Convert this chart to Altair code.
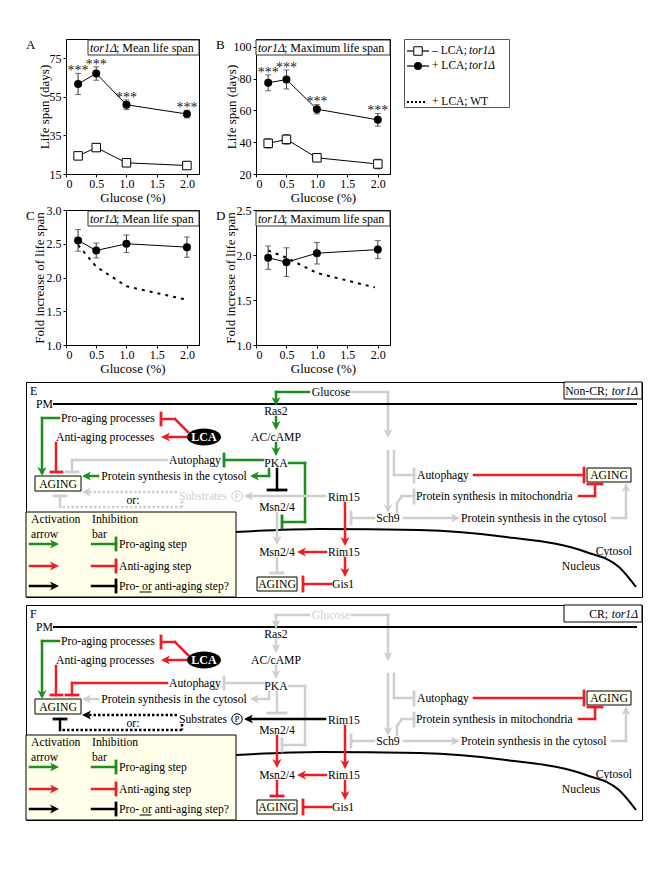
import altair as alt
import pandas as pd

FONT = "Liberation Serif"

# ---------------- data ----------------
glucose = [0.2, 0.5, 1.0, 2.0]
wt_glucose = [0.2, 0.5, 1.0, 1.95]
x_ticks = [0, 0.5, 1.0, 1.5, 2.0]

A_plus = [61.7, 67.1, 50.9, 46.1]
A_plus_err = [5.5, 3.5, 2.5, 2.0]
A_minus = [24.4, 28.7, 20.8, 19.4]
A_minus_err = [1.5, 2.0, 1.0, 1.5]

B_plus = [77.4, 79.5, 60.8, 54.1]
B_plus_err = [5.0, 6.0, 3.0, 4.0]
B_minus = [39.3, 41.8, 30.2, 26.3]
B_minus_err = [3.0, 3.0, 2.0, 3.0]

C_plus = [2.55, 2.40, 2.50, 2.45]
C_plus_err = [0.16, 0.11, 0.13, 0.15]
C_wt = [2.48, 2.16, 1.87, 1.68]

D_plus = [1.97, 1.92, 2.02, 2.06]
D_plus_err = [0.13, 0.16, 0.12, 0.10]
D_wt = [2.05, 1.97, 1.80, 1.64]

A_ticks = [15, 35, 55, 75]
B_ticks = [20, 40, 60, 80, 100]
C_ticks = [1.0, 1.5, 2.0, 2.5, 3.0]
D_ticks = [1.0, 1.5, 2.0, 2.5]

# ---------------- diagram content ----------------
G, R, K, L = "#1d8f1d", "#ee1c24", "#000000", "#cfcfcf"

# polylines: points, colour in E, colour in F, style (s solid / d dotted), width
dia_paths = [
    ([(283, 10), (250, 10), (250, 20)], G, L, "s", 2.5),
    ([(326, 10), (362, 10), (362, 52)], L, L, "s", 2.5),
    ([(250, 35), (250, 44)], G, L, "s", 2.5),
    ([(250, 61), (250, 70)], G, L, "s", 2.5),
    ([(237, 78), (199, 78)], G, L, "s", 2.5),
    ([(243, 87), (243, 94), (228, 94)], G, L, "s", 2.5),
    ([(72, 94), (60, 94)], G, L, "s", 2.5),
    ([(251, 87), (251, 108)], K, L, "s", 2.5),
    ([(263, 81), (279, 81), (279, 140), (257, 140)], G, L, "s", 2.5),
    ([(251, 131), (251, 158)], L, R, "s", 2.5),
    ([(251, 176), (251, 191)], L, R, "s", 2.5),
    ([(300, 170), (275, 170)], R, R, "s", 2.5),
    ([(319, 121), (319, 160)], R, R, "s", 2.5),
    ([(319, 176), (319, 190)], R, R, "s", 2.5),
    ([(305, 202), (278, 202)], R, R, "s", 2.5),
    ([(299, 114), (222, 114)], L, K, "s", 2.5),
    ([(151, 110), (60, 110)], L, K, "d", 2.5),
    ([(156, 119), (156, 125), (34, 125)], L, K, "d", 2.5),
    ([(34, 125), (34, 114)], L, K, "s", 2.5),
    ([(33, 36), (16, 36), (16, 90)], G, G, "s", 2.5),
    ([(30, 61), (30, 90)], R, R, "s", 2.5),
    ([(141, 78), (46, 78), (46, 90)], L, R, "s", 2.5),
    ([(162, 50), (149, 37), (136, 37)], R, R, "s", 2.5),
    ([(160, 55), (139, 55)], R, R, "s", 2.5),
    ([(362, 69), (362, 127)], L, L, "s", 2.5),
    ([(368, 69), (368, 93), (388, 93)], L, L, "s", 2.5),
    ([(371, 130), (371, 121), (376, 114), (388, 114)], L, L, "s", 2.5),
    ([(378, 136), (430, 136)], L, L, "s", 2.5),
    ([(586, 136), (600, 136), (600, 105)], L, L, "s", 2.5),
    ([(348, 136), (325, 136)], L, L, "s", 2.5),
    ([(448, 93), (557, 93)], R, R, "s", 2.5),
    ([(553, 114), (569, 114), (569, 102)], R, R, "s", 2.5),
    ([(28, 22), (610, 22)], K, K, "s", 2.0),
    ([(4, 162), (28, 162)], G, G, "s", 2.5),
    ([(4, 184), (28, 184)], R, R, "s", 2.5),
    ([(4, 204), (28, 204)], K, K, "s", 2.5),
    ([(66, 162), (90, 162)], G, G, "s", 2.5),
    ([(66, 184), (90, 184)], R, R, "s", 2.5),
    ([(66, 204), (90, 204)], K, K, "s", 2.5),
    ([(114, 210), (125, 210)], K, K, "s", 1.0),
]

# inhibition bars: x1, y1, x2, y2, colour E, colour F
dia_bars = [
    (198, 72, 198, 84, G, L),
    (242, 108, 260, 108, K, L),
    (256, 134, 256, 146, G, L),
    (245, 191, 257, 191, L, R),
    (277, 195, 277, 209, R, R),
    (28, 114, 40, 114, L, K),
    (25, 90, 36, 90, R, R),
    (40, 90, 52, 90, L, R),
    (135, 31, 135, 43, R, R),
    (388, 87, 388, 100, L, L),
    (388, 108, 388, 121, L, L),
    (325, 130, 325, 142, L, L),
    (558, 86, 558, 100, R, R),
    (562, 102, 576, 102, R, R),
    (90, 156, 90, 168, G, G),
    (90, 178, 90, 190, R, R),
    (90, 198, 90, 210, K, K),
]

# arrow heads: tip x, tip y, direction, colour E, colour F
dia_heads = [
    (250, 24, "down", G, L), (362, 56, "down", L, L), (250, 48, "down", G, L),
    (250, 74, "down", G, L), (224, 94, "left", G, L), (56, 94, "left", G, L),
    (251, 163, "down", L, R), (271, 170, "left", R, R), (319, 164, "down", R, R),
    (319, 195, "down", R, R), (218, 114, "left", L, K), (56, 110, "left", L, K),
    (16, 94, "down", G, G), (135, 55, "left", R, R), (362, 131, "down", L, L),
    (434, 136, "right", L, L), (600, 101, "up", L, L),
    (33, 162, "right", G, G), (33, 184, "right", R, R), (33, 204, "right", K, K),
]

# labels: text, x, y, align, colour E, colour F
dia_texts = [
    ("Glucose", 305, 10, "center", K, L), ("Ras2", 250, 29, "center", K, K),
    ("AC/cAMP", 250, 55, "center", K, K), ("PKA", 250, 81, "center", K, K),
    ("Pro-aging processes", 35, 36, "left", K, K),
    ("Anti-aging processes", 30, 55, "left", K, K),
    ("Autophagy", 143, 78, "left", K, K),
    ("Protein synthesis in the cytosol", 148, 94, "center", K, K),
    ("AGING", 32, 102, "center", K, K), ("Substrates", 153, 114, "left", L, K),
    ("or:", 107, 118, "center", K, K), ("Msn2/4", 251, 125, "center", K, K),
    ("Rim15", 302, 115, "left", K, K), ("Msn2/4", 251, 170, "center", K, K),
    ("Rim15", 302, 170, "left", K, K), ("Gis1", 306, 202, "left", K, K),
    ("AGING", 251, 202, "center", K, K), ("Autophagy", 391, 93, "left", K, K),
    ("Protein synthesis in mitochondria", 390, 114, "left", K, K),
    ("Sch9", 362, 136, "center", K, K),
    ("Protein synthesis in the cytosol", 435, 136, "left", K, K),
    ("AGING", 583, 93, "center", K, K), ("Cytosol", 606, 169, "right", K, K),
    ("Nucleus", 555, 184, "center", K, K), ("PM", 10, 22, "left", K, K),
    ("Activation", 5, 137, "left", K, K), ("arrow", 5, 152, "left", K, K),
    ("Inhibition", 66, 137, "left", K, K), ("bar", 66, 152, "left", K, K),
    ("Pro-aging step", 93, 162, "left", K, K),
    ("Anti-aging step", 93, 184, "left", K, K),
    ("Pro- or anti-aging step?", 93, 204, "left", K, K),
]

# boxes: x1, y1, x2, y2, fill
dia_boxes = [
    (0, 130, 210, 215, "#ffffea"),
    (9, 94, 55, 109, "#fffff0"),
    (231, 195, 271, 209, "#fffff0"),
    (561, 86, 605, 100, "#fffff0"),
    (538, 0, 616, 17, "#ffffff"),
]

nucleus_x = [210, 293, 393, 480, 560, 593, 610]
nucleus_y = [150, 147, 148, 155, 170, 185, 205]

ARROW = "M0,-1L1,1L0,0.45L-1,1Z"
ELLIPSE = "M-1,0A1,0.5,0,1,1,1,0A1,0.5,0,1,1,-1,0Z"
DIRS = {"up": (0, -1, 0), "right": (1, 0, 90), "down": (0, 1, 180), "left": (-1, 0, 270)}


def diagram(ci, letter, cond):
    W, H = 616, 215
    xs = alt.Scale(domain=[0, W], nice=False, zero=False)
    ys = alt.Scale(domain=[0, H], nice=False, zero=False, reverse=True)
    X = lambda f: alt.X(f"{f}:Q", scale=xs, axis=None)
    Y = lambda f: alt.Y(f"{f}:Q", scale=ys, axis=None)
    col = alt.Color("c:N", scale=None)

    segs = []
    for pts, cE, cF, st, w in dia_paths:
        c = (cE, cF)[ci]
        for (x1, y1), (x2, y2) in zip(pts[:-1], pts[1:]):
            segs.append(dict(x=x1, y=y1, x2=x2, y2=y2, c=c, w=w, s=st))
    for x1, y1, x2, y2, cE, cF in dia_bars:
        segs.append(dict(x=x1, y=y1, x2=x2, y2=y2, c=(cE, cF)[ci], w=2.8, s="s"))
    sdf = pd.DataFrame(segs)

    heads = []
    for tx, ty, d, cE, cF in dia_heads:
        dx, dy, ang = DIRS[d]
        heads.append(dict(x=tx - 4.5 * dx, y=ty - 4.5 * dy, a=ang, c=(cE, cF)[ci]))
    hdf = pd.DataFrame(heads)

    tdf = pd.DataFrame([dict(t=t, x=x, y=y, al=al, c=(cE, cF)[ci])
                        for t, x, y, al, cE, cF in dia_texts])
    bdf = pd.DataFrame([dict(x=a, y=b, x2=c, y2=d, f=f) for a, b, c, d, f in dia_boxes])
    ndf = pd.DataFrame({"x": nucleus_x, "y": nucleus_y, "o": list(range(len(nucleus_x)))})

    layers = [
        alt.Chart(bdf).mark_rect(stroke="black", strokeWidth=1).encode(
            x=X("x"), x2="x2", y=Y("y"), y2="y2", fill=alt.Fill("f:N", scale=None)),
        alt.Chart(ndf).mark_line(color="black", strokeWidth=2, interpolate="monotone").encode(
            x=X("x"), y=Y("y"), order="o:Q"),
        alt.Chart(sdf[sdf.s == "s"]).mark_rule(strokeCap="square").encode(
            x=X("x"), x2="x2", y=Y("y"), y2="y2", color=col,
            strokeWidth=alt.StrokeWidth("w:Q", scale=None)),
        alt.Chart(sdf[sdf.s == "d"]).mark_rule(strokeDash=[2.5, 2], strokeWidth=2.5).encode(
            x=X("x"), x2="x2", y=Y("y"), y2="y2", color=col),
        alt.Chart(hdf).mark_point(shape=ARROW, filled=True, size=81, opacity=1, strokeWidth=0).encode(
            x=X("x"), y=Y("y"), color=col, angle=alt.Angle("a:Q", scale=None)),
    ]
    for al in ["left", "center", "right"]:
        sub = tdf[tdf.al == al]
        if len(sub):
            layers.append(alt.Chart(sub).mark_text(align=al, baseline="middle", fontSize=11.7).encode(
                x=X("x"), y=Y("y"), text="t:N", color=col))
    # LCA ellipse and phospho circle
    lca = pd.DataFrame({"x": [178], "y": [55], "t": ["LCA"]})
    layers.append(alt.Chart(lca).mark_point(shape=ELLIPSE, filled=True, size=1156, color="black", opacity=1).encode(
        x=X("x"), y=Y("y")))
    layers.append(alt.Chart(lca).mark_text(color="white", fontWeight="bold", fontSize=12).encode(
        x=X("x"), y=Y("y"), text="t:N"))
    pc = (L, K)[ci]
    pdf = pd.DataFrame({"x": [211], "y": [114], "t": ["P"]})
    layers.append(alt.Chart(pdf).mark_point(shape="circle", size=110, fill="white", fillOpacity=1,
                                            stroke=pc, strokeWidth=1, opacity=1).encode(x=X("x"), y=Y("y")))
    layers.append(alt.Chart(pdf).mark_text(fontSize=9, color=pc).encode(x=X("x"), y=Y("y"), text="t:N"))
    # panel letter and condition label
    one = pd.DataFrame({"v": [0]})
    layers.append(alt.Chart(one).mark_text(text=letter, align="left", baseline="middle", fontSize=12).encode(
        x=alt.value(4), y=alt.value(9)))
    layers.append(alt.Chart(one).mark_text(text="tor1Δ", align="right", baseline="middle", fontSize=11.7,
                                           fontStyle="italic").encode(x=alt.value(612), y=alt.value(9)))
    layers.append(alt.Chart(one).mark_text(text=cond, align="right", baseline="middle", fontSize=11.7).encode(
        x=alt.value(582), y=alt.value(9)))
    return alt.layer(*layers).properties(
        width=W, height=H, view=alt.ViewBackground(stroke="black", strokeWidth=1))


def panel(letter, rest, ylab, ydom, yticks, yfmt, series, wt, stars, width, title_x, box_left, ital_x):
    H = 135
    xsc = alt.Scale(domain=[0, 2.2], nice=False, zero=False)
    ysc = alt.Scale(domain=ydom, nice=False, zero=False)
    xax = alt.Axis(values=x_ticks, labelExpr="datum.value == 0 ? '0' : format(datum.value, '.1f')",
                   title="Glucose (%)", tickSize=3, labelPadding=1, titlePadding=2, grid=False)
    yax = alt.Axis(values=yticks, format=yfmt, title=ylab, tickSize=3, labelPadding=2, grid=False,
                   titleX=title_x, titleY=H / 2, titleAngle=-90, titleBaseline="middle", titleAlign="center")
    X = alt.X("g:Q", scale=xsc, axis=xax)
    Y = lambda f: alt.Y(f"{f}:Q", scale=ysc, axis=yax)
    layers = []
    if wt is not None:
        wdf = pd.DataFrame({"g": wt_glucose, "m": wt})
        layers.append(alt.Chart(wdf).mark_line(color="black", strokeWidth=2, strokeDash=[3, 5]).encode(
            x=X, y=Y("m")))
    for mean, err, kind in series:
        df = pd.DataFrame({"g": glucose, "m": mean,
                           "lo": [m - e for m, e in zip(mean, err)],
                           "hi": [m + e for m, e in zip(mean, err)]})
        base = alt.Chart(df)
        layers.append(base.mark_rule(color="#333", strokeWidth=1).encode(x=X, y=Y("lo"), y2="hi"))
        for f in ["lo", "hi"]:
            layers.append(base.mark_tick(orient="horizontal", size=6, thickness=1, color="#333").encode(
                x=X, y=Y(f)))
        layers.append(base.mark_line(color="black", strokeWidth=1).encode(x=X, y=Y("m")))
        if kind == "circle":
            layers.append(base.mark_point(shape="circle", filled=True, color="black", size=64, opacity=1).encode(
                x=X, y=Y("m")))
            if stars:
                layers.append(base.mark_text(text="***", baseline="bottom", dy=5, fontSize=14,
                                             color="#222", fill="#222").encode(x=X, y=Y("hi")))
        else:
            layers.append(base.mark_point(shape="square", filled=True, fill="white", stroke="black",
                                          strokeWidth=1, size=72, opacity=1).encode(x=X, y=Y("m")))
    one = pd.DataFrame({"v": [0]})
    layers.append(alt.Chart(one).mark_rect(fill="white", stroke="#333", strokeWidth=1).encode(
        x=alt.value(box_left), x2=alt.value(width), y=alt.value(1), y2=alt.value(16)))
    layers.append(alt.Chart(one).mark_text(text="tor1Δ", fontStyle="italic", align="left", baseline="middle",
                                           fontSize=12).encode(x=alt.value(ital_x), y=alt.value(9)))
    layers.append(alt.Chart(one).mark_text(text=rest, align="left", baseline="middle", fontSize=12).encode(
        x=alt.value(ital_x + 26), y=alt.value(9)))
    layers.append(alt.Chart(one).mark_text(text=letter, align="left", baseline="top", fontSize=13).encode(
        x=alt.value(-40), y=alt.value(0)))
    return alt.layer(*layers).properties(
        width=width, height=H, view=alt.ViewBackground(stroke="black", strokeWidth=1))


def spacer(w):
    return alt.Chart(pd.DataFrame({"v": [0]})).mark_point(opacity=0, size=0).encode(
        x=alt.value(5), y=alt.value(5)).properties(width=w, height=10)


def legend_box():
    W, H = 105, 68
    xs = alt.Scale(domain=[0, W], nice=False, zero=False)
    ys = alt.Scale(domain=[0, H], nice=False, zero=False, reverse=True)
    ldf = pd.DataFrame({"x": [3, 3, 3], "x2": [25, 25, 23], "y": [12, 27, 63], "k": ["a", "b", "c"]})
    X = alt.X("x:Q", scale=xs, axis=None)
    Y = alt.Y("y:Q", scale=ys, axis=None)
    layers = [
        alt.Chart(ldf[ldf.k != "c"]).mark_rule(color="black", strokeWidth=1.2).encode(x=X, x2="x2", y=Y),
        alt.Chart(ldf[ldf.k == "c"]).mark_rule(color="black", strokeWidth=2, strokeDash=[2, 2]).encode(
            x=X, x2="x2", y=Y),
        alt.Chart(pd.DataFrame({"x": [14], "y": [12]})).mark_point(
            shape="square", filled=True, fill="white", stroke="black", strokeWidth=1, size=72, opacity=1).encode(
            x=X, y=Y),
        alt.Chart(pd.DataFrame({"x": [14], "y": [27]})).mark_point(
            shape="circle", filled=True, color="black", size=64, opacity=1).encode(x=X, y=Y),
        alt.Chart(pd.DataFrame({"x": [28, 28, 28], "y": [12, 27, 63], "t": ["– LCA;", "+ LCA;", "+ LCA; WT"]}))
        .mark_text(align="left", baseline="middle", fontSize=11.5).encode(x=X, y=Y, text="t:N"),
        alt.Chart(pd.DataFrame({"x": [65, 65], "y": [12, 27], "t": ["tor1Δ", "tor1Δ"]}))
        .mark_text(align="left", baseline="middle", fontSize=11.5, fontStyle="italic").encode(
            x=X, y=Y, text="t:N"),
    ]
    return alt.layer(*layers).properties(width=W, height=H,
                                         view=alt.ViewBackground(stroke="#555", strokeWidth=1))


pA = panel("A", "; Mean life span", "Life span (days)", [15, 85], A_ticks, "d",
           [(A_minus, A_minus_err, "square"), (A_plus, A_plus_err, "circle")], None, True, 133, -22, 22, 24)
pB = panel("B", "; Maximum life span", "Life span (days)", [20, 105], B_ticks, "d",
           [(B_minus, B_minus_err, "square"), (B_plus, B_plus_err, "circle")], None, True, 134, -25, 0, 2)
pC = panel("C", "; Mean life span", "Fold increase of life span", [1, 3], C_ticks, ".1f",
           [(C_plus, C_plus_err, "circle")], C_wt, False, 133, -27, 22, 24)
pD = panel("D", "; Maximum life span", "Fold increase of life span", [1, 2.5], D_ticks, ".1f",
           [(D_plus, D_plus_err, "circle")], D_wt, False, 134, -26, 0, 2)

row1 = alt.hconcat(spacer(40), pA, spacer(57), pB, spacer(14), legend_box(), spacing=0, bounds="flush")
row2 = alt.hconcat(spacer(40), pC, spacer(57), pD, spacing=0, bounds="flush")
top = alt.vconcat(row1, row2, spacing=-2)
diag = alt.vconcat(diagram(0, "E", "Non-CR;"), diagram(1, "F", "CR;"), spacing=6)

chart = alt.vconcat(top, diag, spacing=5).properties(
    padding={"left": 17, "top": 30, "right": 5, "bottom": 5})
chart = chart.configure(font=FONT).configure_view(stroke=None).configure_axis(
    labelFont=FONT, titleFont=FONT, labelFontSize=12, titleFontSize=13, titleFontWeight="normal",
    labelColor="black", titleColor="black", domainColor="black", tickColor="black", grid=False)

chart.save("out.html", embed_options={"renderer": "svg", "actions": False})
